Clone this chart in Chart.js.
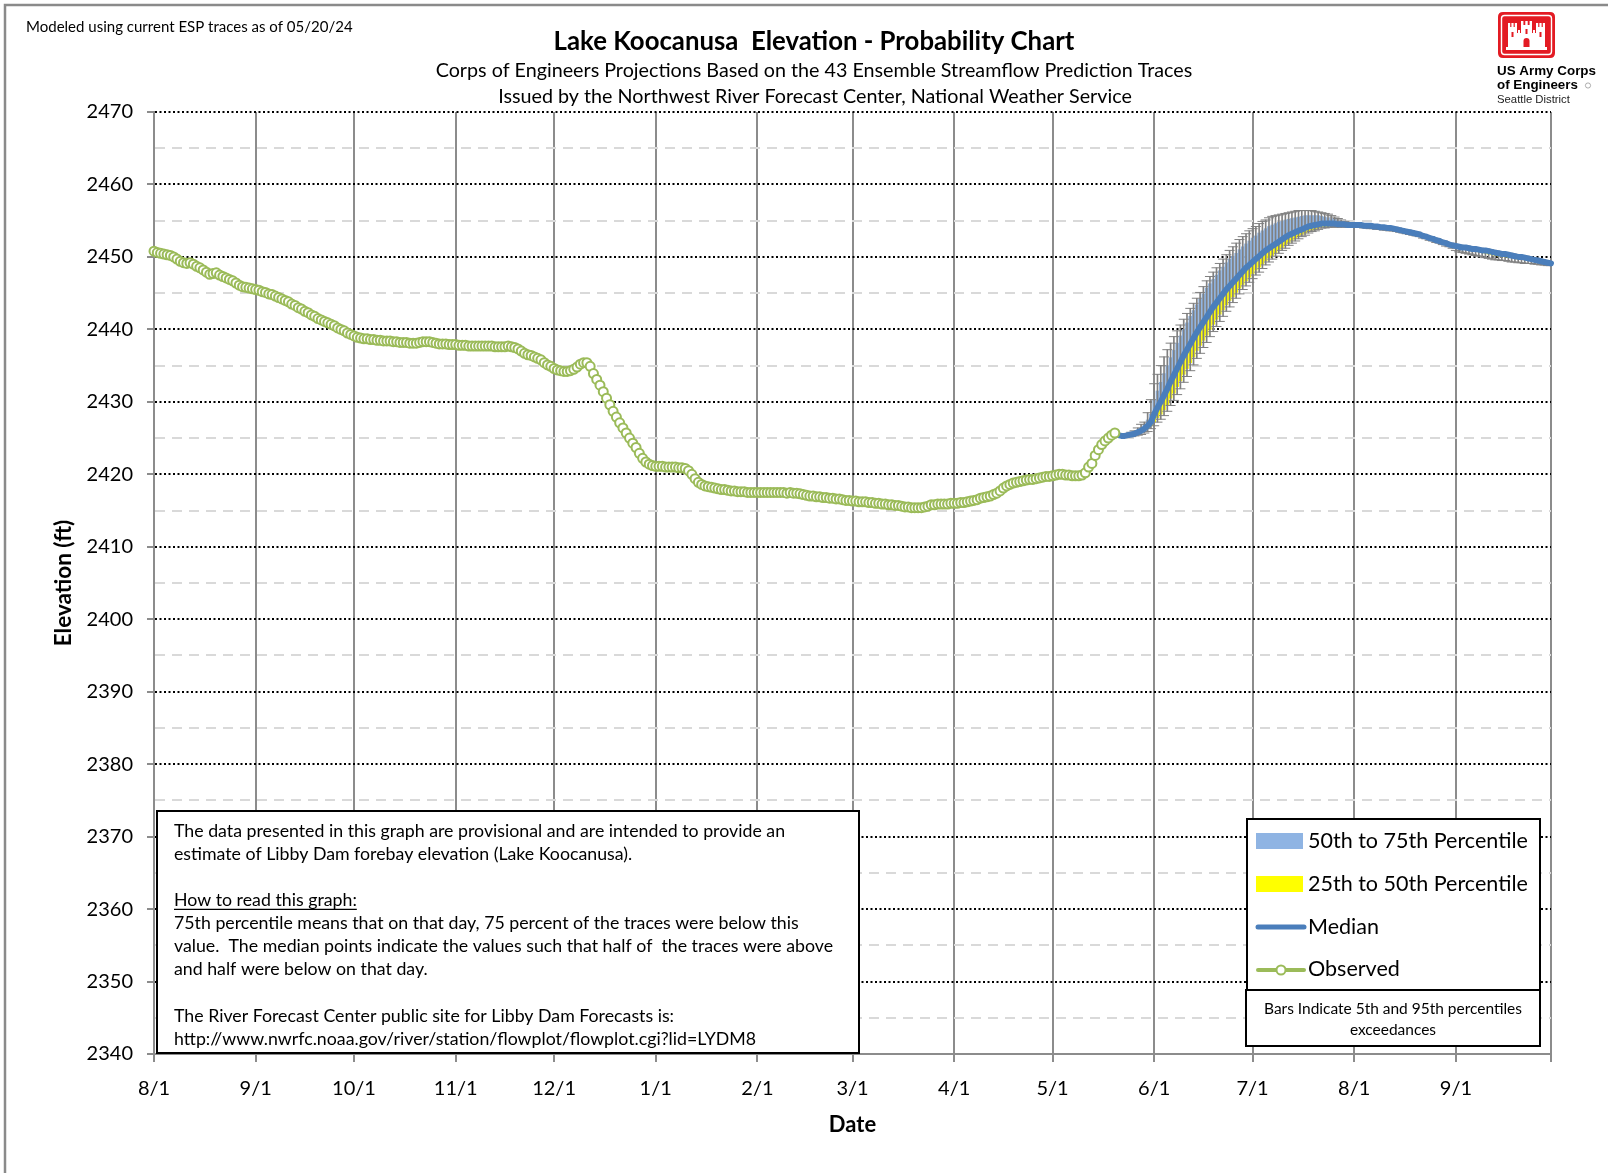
<!DOCTYPE html>
<html>
<head>
<meta charset="utf-8">
<title>Lake Koocanusa Elevation - Probability Chart</title>
<script src="https://cdn.jsdelivr.net/npm/chart.js@4.4.1/dist/chart.umd.min.js"></script>
<style>
  html, body { margin: 0; padding: 0; background: #fff; }
  canvas { display: block; }
</style>
</head>
<body>
<canvas id="chart" width="1608" height="1173"></canvas>
<script>
// ---- Axis ranges and tick labels ----
const axisStart = '2023-08-01';
const axisEnd = '2024-09-30';
const tickDates = ['2023-08-01', '2023-09-01', '2023-10-01', '2023-11-01', '2023-12-01', '2024-01-01',
  '2024-02-01', '2024-03-01', '2024-04-01', '2024-05-01', '2024-06-01', '2024-07-01', '2024-08-01', '2024-09-01'];
const tickLabels = ['8/1', '9/1', '10/1', '11/1', '12/1', '1/1', '2/1', '3/1', '4/1', '5/1', '6/1', '7/1', '8/1', '9/1'];
const elevMin = 2340;
const elevMax = 2470;

// ---- Observed forebay elevation (ft), daily from 8/1/2023 ----
const observedStart = '2023-08-01';
const observed = [
  // Aug
  2450.8, 2450.6, 2450.5, 2450.4, 2450.3, 2450.2, 2450.0, 2449.7, 2449.4, 2449.2,
  2449.1, 2449.2, 2449.0, 2448.7, 2448.5, 2448.2, 2447.9, 2447.6, 2447.7, 2447.8,
  2447.5, 2447.3, 2447.1, 2446.9, 2446.7, 2446.4, 2446.1, 2445.9, 2445.8, 2445.7, 2445.6,
  // Sep
  2445.5, 2445.4, 2445.2, 2445.1, 2444.9, 2444.8, 2444.6, 2444.4, 2444.2, 2444.0,
  2443.8, 2443.5, 2443.3, 2443.0, 2442.8, 2442.5, 2442.3, 2442.0, 2441.8, 2441.5,
  2441.3, 2441.1, 2440.9, 2440.7, 2440.5, 2440.2, 2440.0, 2439.8, 2439.5, 2439.3,
  // Oct
  2439.1, 2438.9, 2438.8, 2438.7, 2438.7, 2438.6, 2438.6, 2438.5, 2438.5, 2438.4,
  2438.4, 2438.4, 2438.3, 2438.3, 2438.2, 2438.2, 2438.2, 2438.1, 2438.1, 2438.1,
  2438.2, 2438.3, 2438.3, 2438.3, 2438.2, 2438.1, 2438.0, 2438.0, 2438.0, 2437.9, 2437.9,
  // Nov
  2437.9, 2437.8, 2437.8, 2437.8, 2437.7, 2437.7, 2437.7, 2437.7, 2437.7, 2437.7,
  2437.7, 2437.7, 2437.6, 2437.6, 2437.6, 2437.6, 2437.7, 2437.6, 2437.5, 2437.3,
  2437.0, 2436.7, 2436.5, 2436.4, 2436.2, 2436.0, 2435.8, 2435.4, 2435.1, 2434.9,
  // Dec
  2434.6, 2434.4, 2434.3, 2434.2, 2434.2, 2434.3, 2434.5, 2434.8, 2435.2, 2435.4,
  2435.4, 2434.9, 2433.9, 2433.1, 2432.3, 2431.4, 2430.5, 2429.6, 2428.7, 2427.9,
  2427.1, 2426.4, 2425.7, 2425.0, 2424.3, 2423.7, 2422.9, 2422.2, 2421.7, 2421.4, 2421.2,
  // Jan
  2421.1, 2421.1, 2421.1, 2421.0, 2421.0, 2421.0, 2421.0, 2420.9, 2420.9, 2420.8,
  2420.5, 2420.0, 2419.4, 2418.9, 2418.6, 2418.4, 2418.3, 2418.2, 2418.1, 2418.0,
  2417.9, 2417.9, 2417.8, 2417.7, 2417.7, 2417.6, 2417.6, 2417.6, 2417.5, 2417.5, 2417.5,
  // Feb
  2417.5, 2417.5, 2417.5, 2417.5, 2417.5, 2417.5, 2417.5, 2417.5, 2417.5, 2417.4,
  2417.5, 2417.4, 2417.4, 2417.3, 2417.2, 2417.1, 2417.0, 2417.0, 2416.9, 2416.9,
  2416.8, 2416.8, 2416.7, 2416.7, 2416.6, 2416.6, 2416.5, 2416.4, 2416.4,
  // Mar
  2416.3, 2416.3, 2416.2, 2416.2, 2416.2, 2416.1, 2416.1, 2416.0, 2416.0, 2415.9,
  2415.9, 2415.8, 2415.8, 2415.7, 2415.7, 2415.6, 2415.5, 2415.5, 2415.4, 2415.4,
  2415.4, 2415.4, 2415.5, 2415.6, 2415.8, 2415.8, 2415.9, 2415.9, 2415.9, 2415.9, 2416.0,
  // Apr
  2416.0, 2416.0, 2416.1, 2416.1, 2416.2, 2416.3, 2416.4, 2416.5, 2416.7, 2416.8,
  2416.9, 2417.0, 2417.2, 2417.4, 2417.7, 2418.1, 2418.4, 2418.6, 2418.8, 2418.9,
  2419.0, 2419.1, 2419.2, 2419.3, 2419.3, 2419.4, 2419.5, 2419.6, 2419.7, 2419.7,
  // May 1-20
  2419.8, 2419.9, 2420.0, 2420.0, 2419.9, 2419.9, 2419.8, 2419.8, 2419.8, 2419.9,
  2420.2, 2421.0, 2421.5, 2422.6, 2423.4, 2424.1, 2424.6, 2425.0, 2425.4, 2425.7
];

// ---- ESP forecast percentiles (ft), daily from 5/20/2024 to 9/30/2024 ----
// rows: May 20-31 | Jun | Jul | Aug | Sep
const forecastStart = '2024-05-20';
const fcMedian = [
  2425.7, 2425.4, 2425.3, 2425.3, 2425.4, 2425.5, 2425.6, 2425.8, 2426.0, 2426.3, 2426.7, 2427.2,
  2428.3, 2429.2, 2430.0, 2430.9, 2431.8, 2432.8, 2433.7, 2434.6, 2435.5, 2436.4,
  2437.2, 2438.0, 2438.8, 2439.6, 2440.3, 2441.0, 2441.7, 2442.4, 2443.1, 2443.7,
  2444.3, 2444.9, 2445.5, 2446.0, 2446.5, 2447.0, 2447.5, 2448.0, 2448.5, 2448.9,
  2449.3, 2449.7, 2450.1, 2450.5, 2450.9, 2451.2, 2451.5, 2451.8, 2452.1, 2452.4,
  2452.7, 2453.0, 2453.2, 2453.4, 2453.6, 2453.8, 2454.0, 2454.2, 2454.3, 2454.4,
  2454.5, 2454.6, 2454.6, 2454.6, 2454.6, 2454.6, 2454.5, 2454.5, 2454.5, 2454.4, 2454.4,
  2454.4, 2454.4, 2454.4, 2454.3, 2454.3, 2454.3, 2454.2, 2454.2, 2454.1, 2454.1,
  2454.0, 2454.0, 2453.9, 2453.8, 2453.7, 2453.6, 2453.5, 2453.4, 2453.3, 2453.2,
  2453.1, 2452.9, 2452.8, 2452.6, 2452.5, 2452.3, 2452.2, 2452.0, 2451.9, 2451.7, 2451.6,
  2451.5, 2451.4, 2451.3, 2451.3, 2451.2, 2451.1, 2451.1, 2451.0, 2450.9, 2450.9,
  2450.8, 2450.7, 2450.6, 2450.5, 2450.4, 2450.4, 2450.3, 2450.2, 2450.1, 2450.0,
  2450.0, 2449.9, 2449.8, 2449.7, 2449.6, 2449.5, 2449.4, 2449.3, 2449.2, 2449.1
];
const fcP95 = [
  2425.7, 2425.5, 2425.4, 2425.5, 2425.6, 2425.8, 2426.0, 2426.4, 2426.9, 2427.2, 2428.5, 2430.3,
  2432.5, 2433.8, 2435.0, 2436.2, 2437.2, 2438.1, 2439.0, 2439.8, 2440.6, 2441.4,
  2442.2, 2442.9, 2443.6, 2444.3, 2445.1, 2445.9, 2446.7, 2447.3, 2447.9, 2448.5,
  2449.1, 2449.7, 2450.3, 2450.9, 2451.4, 2451.9, 2452.4, 2452.8, 2453.2, 2453.6,
  2453.9, 2454.2, 2454.6, 2454.9, 2455.1, 2455.4, 2455.6, 2455.7, 2455.8, 2455.9,
  2456.0, 2456.1, 2456.2, 2456.3, 2456.4, 2456.4, 2456.4, 2456.4, 2456.4, 2456.3,
  2456.2, 2456.1, 2456.0, 2455.9, 2455.7, 2455.5, 2455.3, 2455.1, 2454.9, 2454.7, 2454.6,
  2454.5, 2454.5, 2454.5, 2454.5, 2454.4, 2454.4, 2454.4, 2454.3, 2454.3, 2454.2,
  2454.2, 2454.1, 2454.1, 2454.0, 2453.9, 2453.8, 2453.7, 2453.6, 2453.5, 2453.4,
  2453.2, 2453.1, 2452.9, 2452.8, 2452.6, 2452.5, 2452.3, 2452.2, 2452.0, 2451.9, 2451.7,
  2451.7, 2451.6, 2451.5, 2451.5, 2451.4, 2451.3, 2451.3, 2451.2, 2451.1, 2451.1,
  2451.0, 2450.9, 2450.8, 2450.7, 2450.6, 2450.6, 2450.5, 2450.4, 2450.3, 2450.2,
  2450.2, 2450.1, 2450.0, 2449.9, 2449.8, 2449.7, 2449.6, 2449.5, 2449.4, 2449.3
];
const fcP75 = [
  2425.7, 2425.4, 2425.4, 2425.4, 2425.5, 2425.6, 2425.8, 2426.1, 2426.4, 2426.9, 2427.5, 2428.3,
  2430.3, 2431.5, 2432.7, 2433.9, 2435.0, 2436.1, 2437.1, 2438.1, 2439.1, 2440.0,
  2440.9, 2441.8, 2442.6, 2443.4, 2444.2, 2444.9, 2445.7, 2446.3, 2446.9, 2447.5,
  2448.1, 2448.6, 2449.2, 2449.7, 2450.1, 2450.5, 2451.0, 2451.4, 2451.8, 2452.2,
  2452.6, 2452.9, 2453.3, 2453.6, 2453.9, 2454.2, 2454.4, 2454.6, 2454.8, 2454.9,
  2455.1, 2455.2, 2455.3, 2455.4, 2455.5, 2455.6, 2455.7, 2455.7, 2455.7, 2455.7,
  2455.7, 2455.6, 2455.5, 2455.4, 2455.3, 2455.2, 2455.0, 2454.9, 2454.8, 2454.6, 2454.5,
  2454.5, 2454.4, 2454.4, 2454.4, 2454.3, 2454.3, 2454.3, 2454.2, 2454.2, 2454.1,
  2454.1, 2454.0, 2454.0, 2453.9, 2453.8, 2453.7, 2453.6, 2453.5, 2453.4, 2453.3,
  2453.2, 2453.0, 2452.9, 2452.7, 2452.6, 2452.4, 2452.3, 2452.1, 2452.0, 2451.8, 2451.7,
  2451.6, 2451.5, 2451.4, 2451.4, 2451.3, 2451.2, 2451.2, 2451.1, 2451.0, 2451.0,
  2450.9, 2450.8, 2450.7, 2450.6, 2450.5, 2450.5, 2450.4, 2450.3, 2450.2, 2450.1,
  2450.1, 2450.0, 2449.9, 2449.8, 2449.7, 2449.6, 2449.5, 2449.4, 2449.3, 2449.2
];
const fcP25 = [
  2425.7, 2425.4, 2425.3, 2425.2, 2425.3, 2425.4, 2425.5, 2425.6, 2425.8, 2426.0, 2426.3, 2426.7,
  2427.2, 2427.8, 2428.3, 2428.9, 2429.6, 2430.5, 2431.2, 2432.1, 2432.9, 2433.8,
  2434.6, 2435.4, 2436.2, 2437.1, 2437.8, 2438.5, 2439.2, 2440.0, 2440.7, 2441.4,
  2442.1, 2442.7, 2443.4, 2444.0, 2444.5, 2445.1, 2445.7, 2446.2, 2446.7, 2447.2,
  2447.7, 2448.2, 2448.6, 2449.0, 2449.5, 2449.9, 2450.2, 2450.6, 2451.0, 2451.3,
  2451.7, 2452.0, 2452.3, 2452.6, 2452.8, 2453.1, 2453.3, 2453.6, 2453.7, 2453.8,
  2454.0, 2454.2, 2454.2, 2454.2, 2454.3, 2454.3, 2454.2, 2454.2, 2454.3, 2454.2, 2454.3,
  2454.3, 2454.3, 2454.3, 2454.2, 2454.2, 2454.2, 2454.1, 2454.1, 2454.0, 2454.0,
  2453.9, 2453.9, 2453.8, 2453.7, 2453.6, 2453.5, 2453.4, 2453.3, 2453.2, 2453.1,
  2453.0, 2452.8, 2452.7, 2452.5, 2452.4, 2452.2, 2452.1, 2451.9, 2451.8, 2451.6, 2451.5,
  2451.3, 2451.2, 2451.1, 2451.0, 2450.9, 2450.8, 2450.8, 2450.7, 2450.6, 2450.5,
  2450.4, 2450.3, 2450.2, 2450.1, 2450.1, 2450.0, 2449.9, 2449.9, 2449.8, 2449.7,
  2449.7, 2449.6, 2449.5, 2449.5, 2449.4, 2449.3, 2449.2, 2449.1, 2449.0, 2449.0
];
const fcP05 = [
  2425.7, 2425.3, 2425.2, 2425.1, 2425.2, 2425.2, 2425.3, 2425.4, 2425.5, 2425.7, 2425.9, 2426.3,
  2426.7, 2427.2, 2427.6, 2428.1, 2428.7, 2429.5, 2430.2, 2431.0, 2431.8, 2432.7,
  2433.5, 2434.3, 2435.1, 2436.0, 2436.7, 2437.5, 2438.2, 2439.0, 2439.7, 2440.4,
  2441.1, 2441.8, 2442.5, 2443.1, 2443.7, 2444.3, 2444.9, 2445.5, 2446.0, 2446.5,
  2447.0, 2447.5, 2447.9, 2448.4, 2448.9, 2449.3, 2449.7, 2450.1, 2450.5, 2450.9,
  2451.2, 2451.6, 2451.9, 2452.2, 2452.5, 2452.8, 2453.0, 2453.3, 2453.5, 2453.6,
  2453.8, 2454.0, 2454.0, 2454.1, 2454.1, 2454.2, 2454.1, 2454.1, 2454.2, 2454.1, 2454.2,
  2454.2, 2454.1, 2454.1, 2454.0, 2454.0, 2453.9, 2453.9, 2453.8, 2453.8, 2453.7,
  2453.7, 2453.6, 2453.6, 2453.5, 2453.4, 2453.3, 2453.2, 2453.1, 2453.0, 2452.9,
  2452.8, 2452.6, 2452.5, 2452.3, 2452.2, 2452.0, 2451.9, 2451.7, 2451.5, 2451.4, 2451.2,
  2450.9, 2450.7, 2450.6, 2450.5, 2450.4, 2450.3, 2450.2, 2450.1, 2450.0, 2449.9,
  2449.8, 2449.7, 2449.6, 2449.6, 2449.5, 2449.5, 2449.4, 2449.3, 2449.3, 2449.2,
  2449.2, 2449.1, 2449.1, 2449.1, 2449.0, 2449.0, 2448.9, 2448.9, 2448.8, 2448.8
];

// ---- Text blocks ----
const runNote = 'Modeled using current ESP traces as of 05/20/24';
const titleText = 'Lake Koocanusa  Elevation - Probability Chart';
const subtitle1 = 'Corps of Engineers Projections Based on the 43 Ensemble Streamflow Prediction Traces';
const subtitle2 = 'Issued by the Northwest River Forecast Center, National Weather Service';
const noteLines = [
  'The data presented in this graph are provisional and are intended to provide an',
  'estimate of Libby Dam forebay elevation (Lake Koocanusa).',
  '',
  'How to read this graph:',
  '75th percentile means that on that day, 75 percent of the traces were below this',
  'value.  The median points indicate the values such that half of  the traces were above',
  'and half were below on that day.',
  '',
  'The River Forecast Center public site for Libby Dam Forecasts is:',
  'http://www.nwrfc.noaa.gov/river/station/flowplot/flowplot.cgi?lid=LYDM8'
];
const barsNote = ['Bars Indicate 5th and 95th percentiles', 'exceedances'];

// ---- Helpers ----
const DAY_MS = 86400000;
const dayIndex = s => (Date.parse(s + 'T00:00:00Z') - Date.parse(axisStart + 'T00:00:00Z')) / DAY_MS;
const tickDays = tickDates.map(dayIndex);
const obsDay0 = dayIndex(observedStart);
const fcDay0 = dayIndex(forecastStart);
const series = (vals, d0) => vals.map((v, i) => ({ x: d0 + i, y: v }));
const range = (lo, hi, d0) => lo.map((v, i) => ({ x: d0 + i, y: [v, hi[i]] }));

const C = {
  blueBand: '#8fb4e3',
  yellowBand: '#ffff00',
  median: '#4a7ebb',
  observed: '#9bbb59',
  whisker: '#808080',
  axisGray: '#8c8c8c'
};

Chart.defaults.font.family = 'Lato';
Chart.defaults.color = '#000';

function fontFit(ctx, text, weight, family, width) {
  ctx.font = weight + ' 100px "' + family + '"';
  const size = 100 * width / ctx.measureText(text).width;
  return weight + ' ' + size.toFixed(2) + 'px "' + family + '"';
}

function roundRect(ctx, x, y, w, h, r) {
  ctx.beginPath();
  ctx.moveTo(x + r, y);
  ctx.lineTo(x + w - r, y);
  ctx.quadraticCurveTo(x + w, y, x + w, y + r);
  ctx.lineTo(x + w, y + h - r);
  ctx.quadraticCurveTo(x + w, y + h, x + w - r, y + h);
  ctx.lineTo(x + r, y + h);
  ctx.quadraticCurveTo(x, y + h, x, y + h - r);
  ctx.lineTo(x, y + r);
  ctx.quadraticCurveTo(x, y, x + r, y);
  ctx.closePath();
}

// Castle emblem with the district name underneath
function drawEmblem(ctx) {
  const L = 1498, T = 12, W = 57, H = 46;
  ctx.save();
  ctx.fillStyle = '#e31b23';
  roundRect(ctx, L, T, W, H, 5);
  ctx.fill();
  ctx.strokeStyle = '#fff';
  ctx.lineWidth = 1.4;
  roundRect(ctx, L + 3.5, T + 3.5, W - 7, H - 7, 3);
  ctx.stroke();

  ctx.fillStyle = '#fff';
  const r = (x, y, w, h) => ctx.fillRect(L + x, T + y, w, h);
  // side towers
  r(10, 15, 9, 22); r(38, 15, 9, 22);
  r(10, 11, 2.2, 4); r(13.4, 11, 2.2, 4); r(16.8, 11, 2.2, 4);
  r(38, 11, 2.2, 4); r(41.4, 11, 2.2, 4); r(44.8, 11, 2.2, 4);
  // curtain walls
  r(19, 21, 4, 16); r(34, 21, 4, 16);
  r(20, 18, 2, 3); r(35, 18, 2, 3);
  // central keep
  r(23, 13, 11, 24);
  r(23, 9, 2.4, 4); r(27.3, 9, 2.4, 4); r(31.6, 9, 2.4, 4);
  // base
  r(8, 35, 41, 3);
  // openings
  ctx.fillStyle = '#e31b23';
  r(13.5, 20, 2, 5); r(41.5, 20, 2, 5); r(27.5, 17, 2, 5);
  ctx.beginPath();
  ctx.moveTo(L + 25.5, T + 35);
  ctx.lineTo(L + 25.5, T + 29);
  ctx.arc(L + 28.5, T + 29, 3, Math.PI, 0);
  ctx.lineTo(L + 31.5, T + 35);
  ctx.closePath();
  ctx.fill();

  ctx.fillStyle = '#000';
  ctx.textAlign = 'left';
  ctx.textBaseline = 'alphabetic';
  ctx.font = fontFit(ctx, 'US Army Corps', 'bold', 'Liberation Sans', 99);
  ctx.fillText('US Army Corps', 1497, 75);
  ctx.font = fontFit(ctx, 'of Engineers', 'bold', 'Liberation Sans', 81);
  ctx.fillText('of Engineers', 1497, 89);
  ctx.strokeStyle = '#999';
  ctx.lineWidth = 0.8;
  ctx.beginPath();
  ctx.arc(1588, 85.5, 2.6, 0, Math.PI * 2);
  ctx.stroke();
  ctx.fillStyle = '#222';
  ctx.font = fontFit(ctx, 'Seattle District', 'normal', 'Liberation Sans', 73);
  ctx.fillText('Seattle District', 1497, 103);
  ctx.restore();
}

const decor = {
  id: 'decor',
  beforeDraw(chart) {
    const ctx = chart.ctx;
    ctx.save();
    ctx.fillStyle = '#fff';
    ctx.fillRect(0, 0, chart.width, chart.height);
    ctx.strokeStyle = '#8a8a8a';
    ctx.lineWidth = 2.5;
    ctx.beginPath();
    ctx.moveTo(5, chart.height);
    ctx.lineTo(5, 5);
    ctx.lineTo(chart.width, 5);
    ctx.stroke();
    ctx.restore();
  },
  afterDraw(chart) {
    const ctx = chart.ctx;
    ctx.save();
    ctx.fillStyle = '#000';
    ctx.textBaseline = 'middle';

    // headings
    ctx.textAlign = 'left';
    ctx.font = fontFit(ctx, runNote, 'normal', 'Lato', 327);
    ctx.fillText(runNote, 26, 27);
    ctx.textAlign = 'center';
    ctx.font = fontFit(ctx, titleText, 'bold', 'Lato', 521);
    ctx.fillText(titleText, 814, 42);
    ctx.font = fontFit(ctx, subtitle1, 'normal', 'Lato', 757);
    ctx.fillText(subtitle1, 814, 71);
    ctx.font = fontFit(ctx, subtitle2, 'normal', 'Lato', 634);
    ctx.fillText(subtitle2, 815, 97);

    drawEmblem(ctx);

    // notes box
    ctx.fillStyle = '#fff';
    ctx.fillRect(157, 811, 702, 242);
    ctx.strokeStyle = '#000';
    ctx.lineWidth = 2;
    ctx.strokeRect(157, 811, 702, 242);
    ctx.fillStyle = '#000';
    ctx.textAlign = 'left';
    ctx.font = fontFit(ctx, noteLines[5], 'normal', 'Lato', 659);
    noteLines.forEach((line, i) => {
      if (!line) return;
      const y = 831 + i * 23.1;
      ctx.fillText(line, 174, y);
      if (line.startsWith('How to read')) {
        const w = ctx.measureText(line).width;
        ctx.lineWidth = 1.2;
        ctx.beginPath();
        ctx.moveTo(174, y + 9);
        ctx.lineTo(174 + w, y + 9);
        ctx.stroke();
      }
    });

    // legend
    const ds = chart.data.datasets;
    const byKey = k => ds.find(d => d.key === k);
    ctx.fillStyle = '#fff';
    ctx.fillRect(1247, 819, 293, 171);
    ctx.fillRect(1246, 990, 294, 56);
    ctx.strokeStyle = '#000';
    ctx.lineWidth = 2;
    ctx.strokeRect(1247, 819, 293, 171);
    ctx.strokeRect(1246, 990, 294, 56);

    const legFont = fontFit(ctx, byKey('p75').label, 'normal', 'Lato', 220);
    const tx = 1308;
    ctx.fillStyle = byKey('p75').backgroundColor;
    ctx.fillRect(1256, 833, 47, 16);
    ctx.fillStyle = byKey('p25').backgroundColor;
    ctx.fillRect(1256, 876, 47, 16);
    ctx.lineCap = 'round';
    ctx.strokeStyle = byKey('median').borderColor;
    ctx.lineWidth = 5;
    ctx.beginPath(); ctx.moveTo(1258, 927); ctx.lineTo(1304, 927); ctx.stroke();
    ctx.strokeStyle = byKey('observed').borderColor;
    ctx.lineWidth = 4;
    ctx.beginPath(); ctx.moveTo(1258, 970); ctx.lineTo(1304, 970); ctx.stroke();
    ctx.fillStyle = '#fff';
    ctx.lineWidth = 2;
    ctx.beginPath(); ctx.arc(1281, 970, 4.5, 0, Math.PI * 2); ctx.fill(); ctx.stroke();

    ctx.fillStyle = '#000';
    ctx.font = legFont;
    ctx.textAlign = 'left';
    ctx.fillText(byKey('p75').label, tx, 841);
    ctx.fillText(byKey('p25').label, tx, 884);
    ctx.fillText(byKey('median').label, tx, 927);
    ctx.fillText(byKey('observed').label, tx, 969);

    ctx.textAlign = 'center';
    ctx.font = fontFit(ctx, barsNote[0], 'normal', 'Lato', 258);
    ctx.fillText(barsNote[0], 1393, 1009);
    ctx.fillText(barsNote[1], 1393, 1030);
    ctx.restore();
  }
};

const isMajor = v => v % 10 === 0;

new Chart(document.getElementById('chart'), {
  type: 'line',
  data: {
    datasets: [
      {
        key: 'observed', label: 'Observed', type: 'line', order: 1,
        data: series(observed, obsDay0),
        borderColor: C.observed, borderWidth: 2,
        pointRadius: 4.5, pointBorderWidth: 2,
        pointBackgroundColor: '#fff', pointBorderColor: C.observed,
        clip: false
      },
      {
        key: 'median', label: 'Median', type: 'line', order: 2,
        data: series(fcMedian, fcDay0),
        borderColor: C.median, borderWidth: 6, pointRadius: 0,
        borderCapStyle: 'round', borderJoinStyle: 'round', clip: false
      },
      {
        key: 'cap95', label: '95th', type: 'scatter', order: 3,
        data: series(fcP95, fcDay0),
        pointStyle: 'line', pointRadius: 5, pointBorderWidth: 1,
        pointBorderColor: C.whisker, showLine: false
      },
      {
        key: 'cap05', label: '5th', type: 'scatter', order: 3,
        data: series(fcP05, fcDay0),
        pointStyle: 'line', pointRadius: 5, pointBorderWidth: 1,
        pointBorderColor: C.whisker, showLine: false
      },
      {
        key: 'whisker', label: '5th to 95th', type: 'bar', order: 4, grouped: false,
        data: range(fcP05, fcP95, fcDay0),
        backgroundColor: C.whisker, borderWidth: 0, barThickness: 1
      },
      {
        key: 'p25', label: '25th to 50th Percentile', type: 'bar', order: 5, grouped: false,
        data: range(fcP25, fcMedian, fcDay0),
        backgroundColor: C.yellowBand, borderWidth: 0, barThickness: 3
      },
      {
        key: 'p75', label: '50th to 75th Percentile', type: 'bar', order: 6, grouped: false,
        data: range(fcMedian, fcP75, fcDay0),
        backgroundColor: C.blueBand, borderWidth: 0, barThickness: 3
      }
    ]
  },
  options: {
    responsive: false,
    animation: false,
    events: [],
    layout: { padding: { top: 112, right: 57, left: 0, bottom: 0 } },
    plugins: {
      legend: { display: false },
      tooltip: { enabled: false },
      title: { display: false }
    },
    scales: {
      x: {
        type: 'linear',
        min: 0,
        max: dayIndex(axisEnd),
        offset: false,
        afterBuildTicks: s => { s.ticks = tickDays.concat([dayIndex(axisEnd)]).map(v => ({ value: v })); },
        afterFit: s => { s.height = 119; },
        ticks: {
          autoSkip: false, maxRotation: 0, minRotation: 0, padding: 15,
          font: { size: 20 }, color: '#000',
          callback: v => { const i = tickDays.indexOf(v); return i >= 0 ? tickLabels[i] : ''; }
        },
        grid: { offset: false, color: C.axisGray, lineWidth: 2, tickLength: 8, tickColor: C.axisGray, tickWidth: 2 },
        border: { color: C.axisGray, width: 2 },
        title: {
          display: true, text: 'Date', color: '#000',
          font: { size: 22, weight: 'bold' }, padding: { top: 0, bottom: 35 }
        }
      },
      y: {
        type: 'linear',
        min: elevMin,
        max: elevMax,
        afterFit: s => { s.width = 154; },
        ticks: {
          stepSize: 5, autoSkip: false, padding: 14,
          font: { size: 20 }, color: '#000',
          callback: v => isMajor(v) ? String(v) : ''
        },
        grid: {
          color: c => {
            const v = c.tick ? c.tick.value : null;
            if (v === elevMin) return 'rgba(0,0,0,0)';
            return isMajor(v) ? '#000' : '#d9d9d9';
          },
          lineWidth: 2,
          tickLength: 7,
          tickWidth: 2,
          tickColor: c => (c.tick && isMajor(c.tick.value)) ? C.axisGray : 'rgba(0,0,0,0)'
        },
        border: {
          color: C.axisGray, width: 2,
          dash: c => c.tick ? (isMajor(c.tick.value) ? [2, 2.5] : [10, 7]) : []
        },
        title: {
          display: true, text: 'Elevation (ft)', color: '#000',
          font: { size: 22.5, weight: 'bold' }, padding: { top: 50, bottom: 0 }
        }
      }
    }
  },
  plugins: [decor]
});
</script>
</body>
</html>
